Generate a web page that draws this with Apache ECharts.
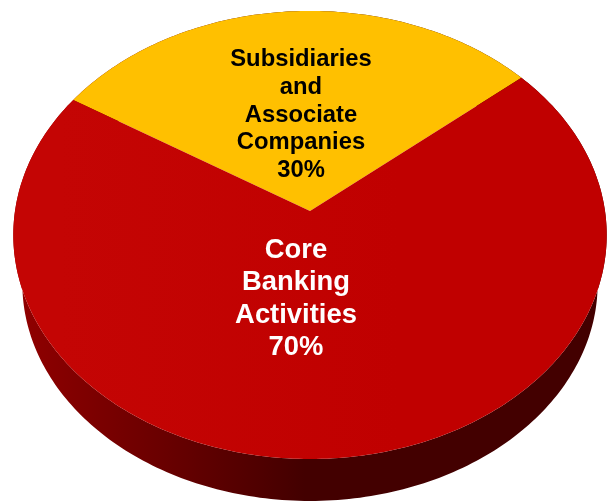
<!DOCTYPE html>
<html>
<head>
<meta charset="utf-8">
<style>
html,body{margin:0;padding:0;background:#fff}
#chart{width:608px;height:501px}
</style>
<script src="https://cdn.jsdelivr.net/npm/echarts@6/dist/echarts.min.js"></script>
</head>
<body>
<div id="chart"></div>
<script>
// Share of the business by activity
const categories = ['Subsidiaries\nand\nAssociate\nCompanies', 'Core\nBanking\nActivities'];
const shares = [30, 70];
const faceColors = ['#FFC000', '#C00000'];
const textColors = ['#000000', '#FFFFFF'];

// Tilted disc: perspective projection of the unit circle onto the page
const TOP = { cx: 310, cy: 211, a: 295, b: 221.5, p: 0.107 };
const BOTTOM = { cx: 310, cy: 260.4, a: 286, b: 214.8, p: 0.107 };
const START_DEG = -58;

function project(disc, deg) {
  const t = deg * Math.PI / 180;
  const u = Math.sin(t), v = Math.cos(t);
  const w = 1 + disc.p * v;
  return [disc.cx + disc.a * u / w, disc.cy - disc.b * v / w];
}

function arc(disc, from, to) {
  const pts = [];
  const steps = Math.max(8, Math.ceil(Math.abs(to - from)));
  for (let i = 0; i <= steps; i++) pts.push(project(disc, from + (to - from) * i / steps));
  return pts;
}

function sliceRange(index, api) {
  const total = shares.reduce((s, v) => s + v, 0);
  let before = 0;
  for (let i = 0; i < index; i++) before += shares[i];
  const from = START_DEG + before / total * 360;
  return [from, from + api.value(1) / total * 360];
}

const labelStyles = [
  { x: 301, y: 115, font: 'bold 23.8px "Liberation Sans", Arial, sans-serif', lineHeight: 27.8 },
  { x: 296, y: 299, font: 'bold 27.4px "Liberation Sans", Arial, sans-serif', lineHeight: 32.5 }
];

function renderRim(params, api) {
  const [from, to] = sliceRange(params.dataIndex, api);
  const upper = arc(TOP, from, to);
  const lower = arc(BOTTOM, from, to).reverse();
  return {
    type: 'polygon',
    shape: { points: upper.concat(lower) },
    style: {
      fill: new echarts.graphic.LinearGradient(20, 0, 305, 0, [
        { offset: 0, color: '#900000' },
        { offset: 1, color: '#430000' }
      ], true)
    }
  };
}

function renderFace(params, api) {
  const i = params.dataIndex;
  const [from, to] = sliceRange(i, api);
  const points = [[TOP.cx, TOP.cy]].concat(arc(TOP, from, to));
  const fill = i === 1
    ? new echarts.graphic.LinearGradient(60, 0, 400, 0, [
        { offset: 0, color: '#C40504' },
        { offset: 1, color: faceColors[i] }
      ], true)
    : faceColors[i];
  const lab = labelStyles[i];
  return {
    type: 'group',
    children: [
      { type: 'polygon', shape: { points }, style: { fill } },
      {
        type: 'text',
        z2: 10,
        style: {
          text: categories[i] + '\n' + api.value(1) + '%',
          x: lab.x,
          y: lab.y,
          align: 'center',
          verticalAlign: 'middle',
          font: lab.font,
          lineHeight: lab.lineHeight,
          fill: textColors[i]
        }
      }
    ]
  };
}

const seriesData = shares.map((v, i) => [i, v]);
const chart = echarts.init(document.getElementById('chart'), null, { renderer: 'canvas' });
chart.setOption({
  animation: false,
  backgroundColor: '#ffffff',
  series: [
    { type: 'custom', coordinateSystem: 'none', silent: true, clip: false, z: 1, data: seriesData, renderItem: renderRim },
    { type: 'custom', coordinateSystem: 'none', silent: true, clip: false, z: 2, data: seriesData, renderItem: renderFace }
  ]
});
</script>
</body>
</html>
